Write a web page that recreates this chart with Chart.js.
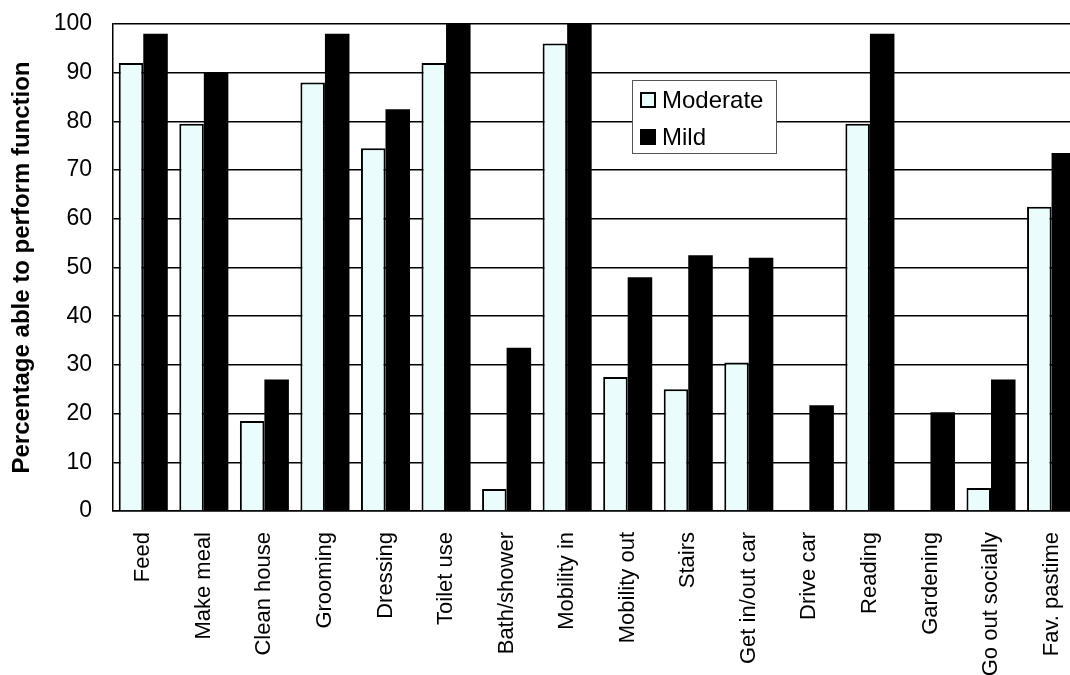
<!DOCTYPE html>
<html>
<head>
<meta charset="utf-8">
<script src="https://cdn.jsdelivr.net/npm/chart.js@4/dist/chart.umd.min.js"></script>
<style>
  html, body { margin: 0; padding: 0; background: #ffffff; overflow: hidden; }
  #wrap { position: relative; width: 1099px; height: 675px; }
</style>
</head>
<body>
<div id="wrap"><canvas id="chart"></canvas></div>
<script>
const categories = ['Feed', 'Make meal', 'Clean house', 'Grooming', 'Dressing', 'Toilet use',
    'Bath/shower', 'Mobility in', 'Mobility out', 'Stairs', 'Get in/out car', 'Drive car',
    'Reading', 'Gardening', 'Go out socially', 'Fav. pastime'];
const moderateValues = [92, 79.5, 18.5, 88, 74.5, 92, 4.5, 96, 27.5, 25, 30.5, 0, 79.5, 0, 4.7, 62.5];
const mildValues = [98, 90, 27, 98, 82.5, 100, 33.5, 100, 48, 52.5, 52, 21.7, 98, 20.3, 27, 73.5];
const seriesNames = ['Moderate', 'Mild'];
const yTicks = [0, 10, 20, 30, 40, 50, 60, 70, 80, 90, 100];

const moderateColor = '#eafcfc';
const mildColor = '#000000';
const fontName = '"Liberation Sans", Arial, sans-serif';

// legend drawn inside the plot, like the original
const boxLegend = {
    id: 'boxLegend',
    afterDatasetsDraw(chart) {
        const ctx = chart.ctx;
        const area = chart.chartArea;
        const x = area.left + 519;
        const y = area.top + 56;
        const w = 144;
        const h = 73;
        ctx.save();
        ctx.fillStyle = '#ffffff';
        ctx.fillRect(x, y, w, h);
        ctx.strokeStyle = '#555555';
        ctx.lineWidth = 1;
        ctx.strokeRect(x + 0.5, y + 0.5, w, h);
        ctx.font = '24px ' + fontName;
        ctx.textBaseline = 'middle';
        chart.data.datasets.forEach(function(ds, i) {
            const cy = y + 20 + i * 37;
            ctx.fillStyle = ds.backgroundColor;
            ctx.fillRect(x + 9, cy - 7, 14, 14);
            ctx.strokeStyle = '#000000';
            ctx.lineWidth = 2;
            ctx.strokeRect(x + 9, cy - 7, 14, 14);
            ctx.fillStyle = '#000000';
            ctx.fillText(ds.label, x + 30, cy + 1);
        });
        ctx.restore();
    }
};

new Chart('chart', {
    type: 'bar',
    data: {
        labels: categories,
        datasets: [{
            label: seriesNames[0],
            data: moderateValues,
            backgroundColor: moderateColor,
            borderColor: '#000000',
            borderWidth: 2,
            borderSkipped: 'bottom',
        }, {
            label: seriesNames[1],
            data: mildValues,
            backgroundColor: mildColor,
            borderColor: mildColor,
            borderWidth: 0,
        }]
    },
    options: {
        responsive: true,
        maintainAspectRatio: false,
        animation: false,
        layout: { padding: { top: 24, left: 0, right: 1, bottom: 0 } },
        categoryPercentage: 0.81,
        barPercentage: 1.0,
        plugins: {
            legend: { display: false },
            tooltip: { enabled: false }
        },
        scales: {
            x: {
                grid: { display: false, drawTicks: false },
                border: { display: true, color: '#000000', width: 1.5 },
                ticks: {
                    color: '#000000',
                    font: { family: fontName, size: 22 },
                    maxRotation: 90,
                    minRotation: 90,
                    padding: 21,
                    autoSkip: false,
                },
                afterFit(scale) { scale.height = 164; }
            },
            y: {
                min: 0,
                max: 100,
                afterBuildTicks(scale) {
                    scale.ticks = yTicks.map(function(v) { return { value: v }; });
                },
                grid: { color: '#000000', lineWidth: 1.5, drawTicks: false },
                border: { display: true, color: '#000000', width: 1.5 },
                ticks: {
                    color: '#000000',
                    font: { family: fontName, size: 23 },
                    padding: 21,
                },
                title: {
                    display: true,
                    text: 'Percentage able to perform function',
                    color: '#000000',
                    font: { family: fontName, size: 24, weight: 'bold' },
                    padding: { top: 8, bottom: 0 },
                },
                afterFit(scale) {
                    scale.width = 113;
                    scale.paddingTop = 0;
                    scale.paddingBottom = 0;
                }
            }
        }
    },
    plugins: [boxLegend]
});
</script>
</body>
</html>
